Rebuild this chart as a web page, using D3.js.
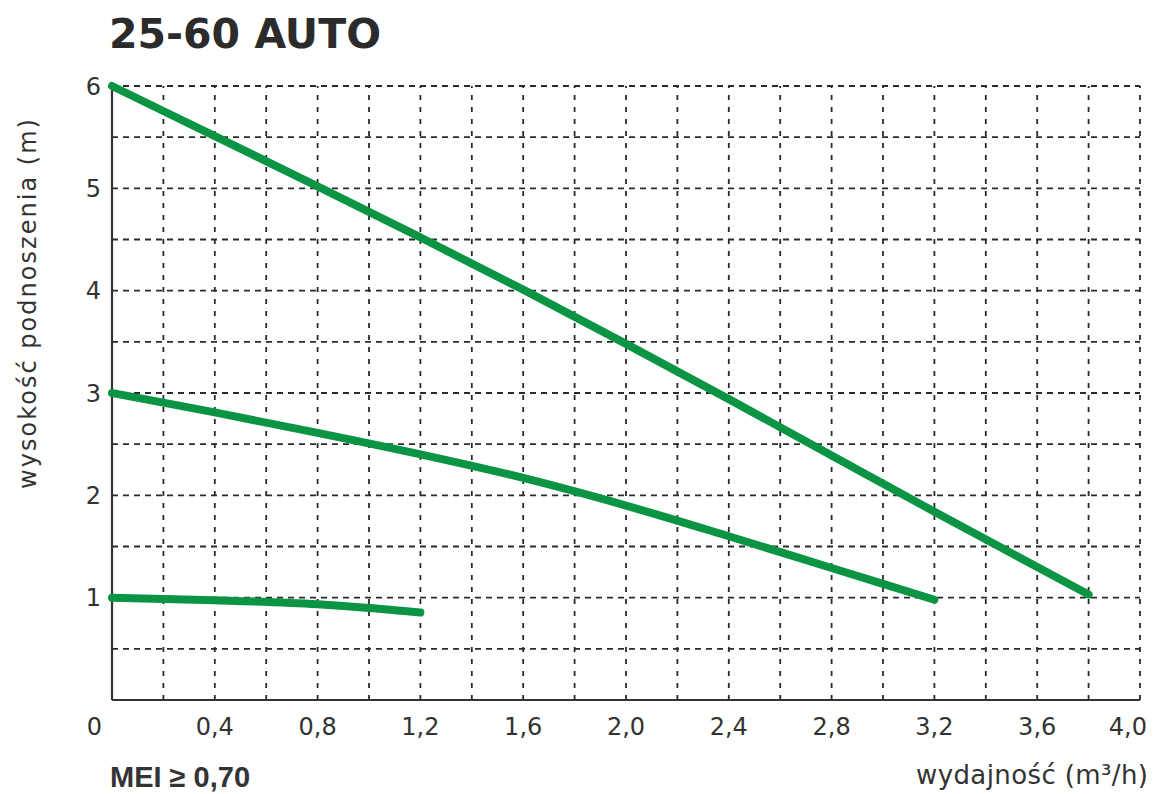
<!DOCTYPE html>
<html lang="pl">
<head>
<meta charset="UTF-8">
<title>25-60 AUTO</title>
<script src="https://d3js.org/d3.v7.min.js"></script>
<style>
  body { margin: 0; background: #fff; }
  text { font-family: "DejaVu Sans", sans-serif; fill: #333; }
</style>
</head>
<body>
<script>
// dane
const flowHigh = [0, 0.4, 0.8, 1.2, 1.6, 2.0, 2.4, 2.8, 3.2, 3.6, 3.8];
const headHigh = [6.0, 5.51, 5.02, 4.52, 4.01, 3.48, 2.94, 2.39, 1.84, 1.30, 1.03];
const flowMid = [0, 0.4, 0.8, 1.2, 1.6, 2.0, 2.4, 2.8, 3.2];
const headMid = [3.0, 2.81, 2.61, 2.40, 2.17, 1.90, 1.60, 1.29, 0.98];
const flowLow = [0, 0.4, 0.8, 1.0, 1.2];
const headLow = [1.0, 0.975, 0.935, 0.90, 0.855];

const xTicks = [0, 0.4, 0.8, 1.2, 1.6, 2.0, 2.4, 2.8, 3.2, 3.6, 4.0];
const yTicks = [1, 2, 3, 4, 5, 6];
const xGrid = d3.range(1, 21).map(i => i * 0.2);
const yGrid = d3.range(1, 13).map(i => i * 0.5);

const W = 1162, H = 794;
const svg = d3.select('body').append('svg').attr('width', W).attr('height', H);

const x = d3.scaleLinear().domain([0, 4]).range([112, 1140]);
const y = d3.scaleLinear().domain([0, 6]).range([700, 86]);

// siatka
svg.append('g').selectAll('line').data(yGrid).join('line')
    .attr('x1', x(0)).attr('x2', x(4))
    .attr('y1', d => y(d)).attr('y2', d => y(d))
    .attr('stroke', '#2a2a2a').attr('stroke-width', 1.8)
    .attr('stroke-dasharray', '6,5');

svg.append('g').selectAll('line').data(xGrid).join('line')
    .attr('x1', d => x(d)).attr('x2', d => x(d))
    .attr('y1', y(0)).attr('y2', y(6))
    .attr('stroke', '#2a2a2a').attr('stroke-width', 1.8)
    .attr('stroke-dasharray', '5,7');

// osie
svg.append('line').attr('x1', x(0)).attr('x2', x(0)).attr('y1', y(6)).attr('y2', y(0))
    .attr('stroke', '#333').attr('stroke-width', 2.2);
svg.append('line').attr('x1', x(0)).attr('x2', x(4)).attr('y1', y(0)).attr('y2', y(0))
    .attr('stroke', '#333').attr('stroke-width', 2.2);

// etykiety osi
const fmt = d => d === 0 ? '0' : d3.format('.1f')(d).replace('.', ',');
svg.append('g').selectAll('text').data(xTicks).join('text')
    .attr('x', d => d === 0 ? x(0) - 10 : (d === 4 ? x(4) + 7 : x(d)))
    .attr('y', 735)
    .attr('text-anchor', d => d === 0 || d === 4 ? 'end' : 'middle')
    .attr('font-size', 24)
    .text(fmt);

svg.append('g').selectAll('text').data(yTicks).join('text')
    .attr('x', 101).attr('y', d => y(d))
    .attr('dy', '0.36em')
    .attr('text-anchor', 'end')
    .attr('font-size', 24)
    .text(d => d);

// krzywe
const line = d3.line().x(d => x(d[0])).y(d => y(d[1])).curve(d3.curveMonotoneX);
const curves = [
    d3.zip(flowHigh, headHigh),
    d3.zip(flowMid, headMid),
    d3.zip(flowLow, headLow)
];
svg.append('g').selectAll('path').data(curves).join('path')
    .attr('d', line)
    .attr('fill', 'none')
    .attr('stroke', '#0b9444')
    .attr('stroke-width', 8)
    .attr('stroke-linecap', 'round')
    .attr('stroke-linejoin', 'round');

// tytuły
svg.append('text').attr('x', 109).attr('y', 48)
    .attr('font-size', 41).attr('font-weight', 'bold')
    .style('fill', '#2b2b2b')
    .text('25-60 AUTO');

svg.append('text')
    .attr('transform', 'translate(36,304) rotate(-90)')
    .attr('text-anchor', 'middle')
    .attr('font-size', 24)
    .attr('textLength', 370)
    .text('wysokość podnoszenia (m)');

svg.append('text').attr('x', 1148).attr('y', 784)
    .attr('text-anchor', 'end')
    .attr('font-size', 26)
    .attr('textLength', 232)
    .text('wydajność (m³/h)');

svg.append('text').attr('x', 110).attr('y', 787)
    .attr('font-size', 29).attr('font-weight', 'bold')
    .style('font-family', '"Liberation Sans", Arial, sans-serif')
    .text('MEI ≥ 0,70');
</script>
</body>
</html>
